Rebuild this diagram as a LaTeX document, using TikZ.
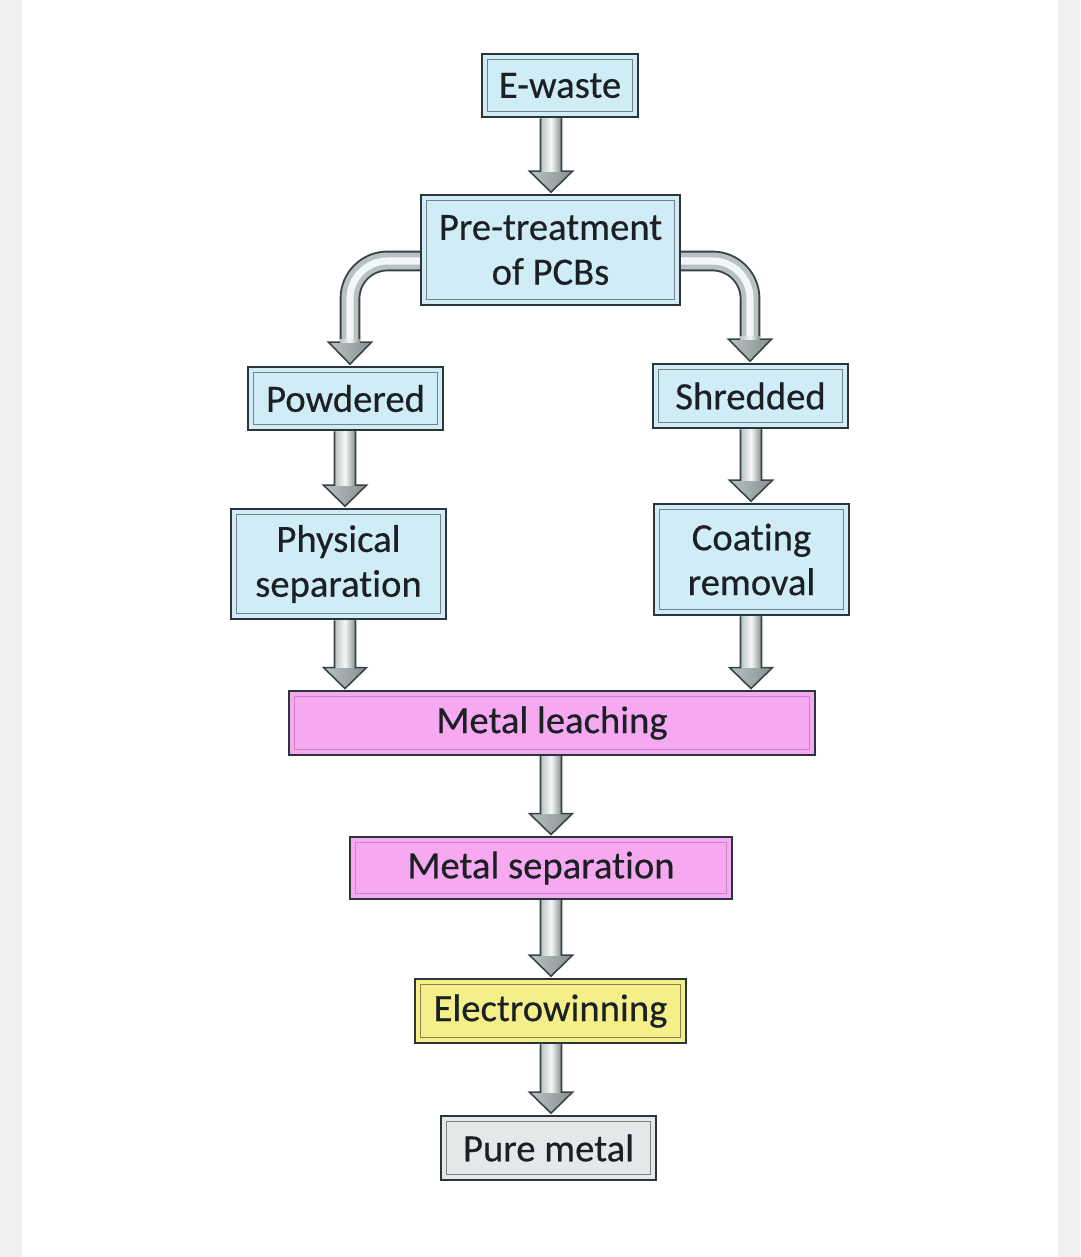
\documentclass[tikz,border=0pt]{standalone}
\usepackage{fontspec}
\setmainfont[FakeBold=0.4, Ligatures=NoCommon]{Carlito}
\usetikzlibrary{calc}
\pgfdeclarelayer{bg}
\pgfdeclarelayer{arrows}
\pgfsetlayers{bg,arrows,main}
\definecolor{boxdark}{HTML}{2A363C}
\definecolor{txt}{HTML}{1A2024}
\definecolor{bluef}{HTML}{D0ECF7}
\definecolor{pinkf}{HTML}{F6A9F1}
\definecolor{yellowf}{HTML}{F5EF8A}
\definecolor{greyf}{HTML}{E4E8E8}
\definecolor{sidebg}{HTML}{EFF0F2}
\definecolor{arrdark}{HTML}{3A4446}
\definecolor{arrmid}{HTML}{B8C2C2}
\definecolor{arrlight}{HTML}{F4F7F7}
\definecolor{arrshadow}{HTML}{86918F}
\tikzset{
  box/.style={draw=boxdark, line width=1.5pt, align=center, text=txt, inner sep=0pt,
    font=\fontsize{22}{25.5}\selectfont},
  innerline/.style={line width=0.7pt},
  arrowfill/.style={left color=arrmid, middle color=arrlight, right color=arrshadow},
  shaftfill/.style={left color=arrmid, right color=arrshadow, middle color=arrlight},
  arrowline/.style={draw=arrdark, line width=0.9pt, line join=miter},
}
% vertical block arrow: column coordinate, from node, to node
\newcommand\varrow[3]{%
  \coordinate (vA) at (#2.south -| #1);
  \coordinate (vB) at ([yshift=0.03cm]#3.north -| #1);
  \fill[arrowfill] ([xshift=-0.43cm,yshift=0.42cm]vB) -- (vB) -- ([xshift=0.43cm,yshift=0.42cm]vB) -- cycle;
  \fill[shaftfill] ([xshift=-0.21cm]vA) rectangle ([xshift=0.21cm,yshift=0.42cm]vB);
  \draw[arrowline] ([xshift=-0.21cm]vA) -- ([xshift=-0.21cm,yshift=0.42cm]vB) -- ([xshift=-0.43cm,yshift=0.42cm]vB) -- (vB)
     -- ([xshift=0.43cm,yshift=0.42cm]vB) -- ([xshift=0.21cm,yshift=0.42cm]vB) -- ([xshift=0.21cm]vA);
}
% head of a bent arrow at a tip coordinate
\newcommand\ahead[1]{%
  \fill[arrowfill] ([xshift=-0.43cm,yshift=0.44cm]#1) -- (#1) -- ([xshift=0.43cm,yshift=0.44cm]#1) -- cycle;
  \fill[shaftfill] ([xshift=-0.2cm,yshift=0.5cm]#1) rectangle ([xshift=0.2cm,yshift=0.44cm]#1);
  \draw[arrowline] ([xshift=-0.2cm,yshift=0.44cm]#1) -- ([xshift=-0.43cm,yshift=0.44cm]#1) -- (#1)
     -- ([xshift=0.43cm,yshift=0.44cm]#1) -- ([xshift=0.2cm,yshift=0.44cm]#1);
}
\newcommand\insetline[2]{%
  \draw[innerline, draw=#2] ([shift={(0.13cm,-0.13cm)}]#1.north west) rectangle ([shift={(-0.13cm,0.13cm)}]#1.south east);
}
\begin{document}
\begin{tikzpicture}[x=0.02cm, y=-0.02cm]
\begin{pgfonlayer}{bg}
  \fill[white] (0,0) rectangle (1080,1257);
  \fill[sidebg] (0,0) rectangle (22,1257);
  \fill[sidebg] (1058,0) rectangle (1080,1257);
\end{pgfonlayer}
\useasboundingbox (0,0) rectangle (1080,1257);

\coordinate (cL) at (345,0);
\coordinate (cR) at (751,0);
\coordinate (cM) at (551,0);
\coordinate (bL) at (350,0);
\coordinate (bR) at (750,0);

\node[box, fill=bluef, minimum width=3.12cm, minimum height=1.26cm] (ewaste) at (560,85.5) {E-waste};
\node[box, fill=bluef, minimum width=5.18cm, minimum height=2.2cm] (pre) at (550.5,250) {Pre-treatment\\of PCBs};
\node[box, fill=bluef, minimum width=3.9cm, minimum height=1.26cm] (pow) at (345.5,398.5) {Powdered};
\node[box, fill=bluef, minimum width=3.9cm, minimum height=1.28cm] (shr) at (750.5,396) {Shredded};
\node[box, fill=bluef, minimum width=4.3cm, minimum height=2.2cm] (phys) at (338.5,564) {Physical\\separation};
\node[box, fill=bluef, minimum width=3.9cm, minimum height=2.22cm] (coat) at (751.5,559.5) {Coating\\removal};
\node[box, fill=pinkf, line width=1.1pt, minimum width=10.52cm, minimum height=1.28cm] (leach) at (552,723) {Metal leaching};
\node[box, fill=pinkf, line width=1.1pt, minimum width=7.64cm, minimum height=1.24cm] (msep) at (541,868) {Metal separation};
\node[box, fill=yellowf, minimum width=5.42cm, minimum height=1.28cm] (elec) at (550.5,1011) {Electrowinning};
\node[box, fill=greyf, minimum width=4.3cm, minimum height=1.28cm] (pure) at (548.5,1148) {Pure metal};

\insetline{ewaste}{bluef!55!black}
\insetline{pre}{bluef!55!black}
\insetline{pow}{bluef!55!black}
\insetline{shr}{bluef!55!black}
\insetline{phys}{bluef!55!black}
\insetline{coat}{bluef!55!black}
\insetline{leach}{pinkf!80!black}
\insetline{msep}{pinkf!80!black}
\insetline{elec}{yellowf!55!black}
\insetline{pure}{greyf!55!black}

\begin{pgfonlayer}{arrows}
  \varrow{cM}{ewaste}{pre}
  \varrow{cL}{pow}{phys}
  \varrow{cR}{shr}{coat}
  \varrow{cL}{phys}{leach}
  \varrow{cR}{coat}{leach}
  \varrow{cM}{leach}{msep}
  \varrow{cM}{msep}{elec}
  \varrow{cM}{elec}{pure}
  % bent arrows from pre-treatment
  \coordinate (pls) at ([xshift=0.1cm,yshift=-0.22cm]pre.west);
  \coordinate (plt) at ([yshift=0.03cm]pow.north -| bL);
  \coordinate (plh) at ([yshift=0.48cm]plt);
  \coordinate (prs) at ([xshift=-0.1cm,yshift=-0.22cm]pre.east);
  \coordinate (prt) at ([yshift=0.03cm]shr.north -| bR);
  \coordinate (prh) at ([yshift=0.48cm]prt);
  \foreach \s/\h in {pls/plh, prs/prh}{
    \draw[line width=11.8pt, arrdark, rounded corners=0.75cm] (\s) -| (\h);
    \draw[line width=9.6pt, arrmid, rounded corners=0.75cm] (\s) -| (\h);
    \draw[line width=4pt, arrlight, rounded corners=0.75cm] (\s) -| (\h);
  }
  \ahead{plt}
  \ahead{prt}
\end{pgfonlayer}
\end{tikzpicture}
\end{document}
